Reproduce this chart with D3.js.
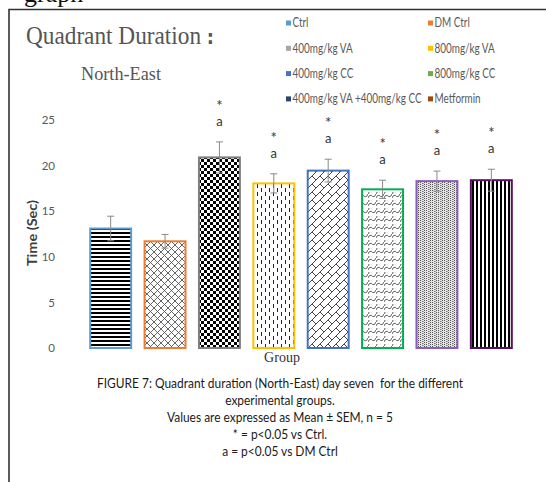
<!DOCTYPE html>
<html><head><meta charset="utf-8">
<script src="https://cdn.jsdelivr.net/npm/d3@7"></script>
<style>body{margin:0;background:#fff}svg{display:block}</style>
</head><body>
<svg id="chart" width="546" height="482"></svg>
<script>
const categories = ["Ctrl","DM Ctrl","400mg/kg VA","800mg/kg VA","400mg/kg CC","800mg/kg CC","400mg/kg VA +400mg/kg CC","Metformin"];
const values = [13.1, 11.7, 20.9, 18.05, 19.45, 17.4, 18.3, 18.4];
const errors = [1.35, 0.75, 1.7, 1.05, 1.25, 1.0, 1.1, 1.2];
const starMarks = ["", "", "*", "*", "*", "*", "*", "*"];
const aMarks = ["", "", "a", "a", "a", "a", "a", "a"];
const legendColors = ["#5B9BD5","#ED7D31","#A5A5A5","#FFC000","#4472C4","#70AD47","#264478","#9E480E"];
const borderColors = ["#5B9BD5","#ED7D31","#7F7F7F","#FFC000","#4472C4","#00B050","#8E5CC0","#5A1060"];
const yTicks = [0,5,10,15,20,25];
const captionLines = [
  "FIGURE 7: Quadrant duration (North-East) day seven  for the different",
  "experimental groups.",
  "Values are expressed as Mean \u00B1 SEM, n = 5",
  "* = p<0.05 vs Ctrl.",
  "a = p<0.05 vs DM Ctrl"
];

const svg = d3.select("#chart");
const defs = svg.append("defs");

function pat(id, w, h, draw) {
  const p = defs.append("pattern").attr("id", id).attr("patternUnits","userSpaceOnUse")
    .attr("width", w).attr("height", h);
  p.append("rect").attr("width", w).attr("height", h).attr("fill", "#fff");
  draw(p);
}
pat("p0", 8, 4, p => p.append("rect").attr("width",8).attr("height",2).attr("fill","#000"));
pat("p1", 7, 7, p => {
  p.append("path").attr("d","M0,0L7,7M7,0L0,7M-1,6L1,8M6,-1L8,1").attr("stroke","#555").attr("stroke-width",0.9).attr("fill","none");
});
pat("p2", 6, 6, p => {
  p.append("rect").attr("width",3).attr("height",3).attr("fill","#000");
  p.append("rect").attr("x",3).attr("y",3).attr("width",3).attr("height",3).attr("fill","#000");
});
pat("p3", 8, 8, p => {
  p.append("path").attr("d","M1.5,0V4M5.5,4V8").attr("stroke","#222").attr("stroke-width",1);
});
pat("p4", 8, 8, p => {
  p.append("path").attr("d","M0,8L8,0M0,0L4,4M-4,4L0,8M8,0L12,4").attr("stroke","#333").attr("stroke-width",0.9).attr("fill","none");
});
pat("p5", 8, 8, p => {
  p.append("path").attr("d","M0,6C1,3 3,3 4,4C5,5 7,5 8,2M0,2C1,-1 3,-1 4,0").attr("stroke","#333").attr("stroke-width",0.9).attr("fill","none");
});
pat("p6", 6, 2, p => {
  p.select("rect").attr("fill","#e4e4e4");
  p.append("rect").attr("x",0).attr("y",0).attr("width",1).attr("height",1).attr("fill","#555");
  p.append("rect").attr("x",2).attr("y",1).attr("width",1).attr("height",1).attr("fill","#777");
  p.append("rect").attr("x",4).attr("y",0).attr("width",1).attr("height",1).attr("fill","#555");
  p.append("rect").attr("x",3).attr("y",1).attr("width",1).attr("height",1).attr("fill","#aaa");
});
pat("p7", 4, 8, p => p.append("rect").attr("width",2).attr("height",8).attr("fill","#000"));

const x = d3.scaleBand().domain(categories).range([63, 539]).paddingInner(0.247).paddingOuter(0.5);
const y = d3.scaleLinear().domain([0, 25]).range([348, 120]);

// frame
svg.append("path").attr("d","M9,482V9.5H546").attr("fill","none").attr("stroke","#333").attr("stroke-width",1.6);

// cut-off text at the top edge
svg.append("text").attr("x",24).attr("y",2).attr("font-family","Liberation Serif").attr("font-size",26).attr("fill","#111").text("graph");

function condense(sel, fs, target) {
  sel.attr("font-size", fs);
  sel.attr("textLength", target).attr("lengthAdjust","spacingAndGlyphs");
}
function condenseGroup(sel, fs, refIndex, target) {
  sel.attr("font-size", fs);
  const nodes = sel.nodes();
  const r = target / nodes[refIndex].getComputedTextLength();
  nodes.forEach(n => {
    const l = n.getComputedTextLength();
    d3.select(n).attr("textLength", l * r).attr("lengthAdjust","spacingAndGlyphs");
  });
}

// title
const t1 = svg.append("text").attr("x",26).attr("y",44).attr("font-family","Liberation Serif").attr("fill","#555");
t1.append("tspan").text("Quadrant Duration ");
t1.append("tspan").attr("font-weight","bold").attr("font-family","DejaVu Sans").attr("font-size",20).text(":");
condense(t1, 26, 188);
const t2 = svg.append("text").attr("x",81).attr("y",80).attr("font-family","Liberation Serif").attr("fill","#555").text("North-East");
condense(t2, 19.5, 80);

// legend
const legItems = svg.append("g").selectAll("g").data(categories).join("g")
  .attr("transform", (d,i) => `translate(${i%2===0?286:428},${23 + Math.floor(i/2)*25.3})`);
legItems.append("rect").attr("x",0).attr("y",-2.5).attr("width",5).attr("height",5).attr("fill",(d,i)=>legendColors[i]);
const legTexts = legItems.append("text").attr("x",6.5).attr("y",4.2).attr("font-family","Lato").attr("fill","#595959").text(d=>d);
condenseGroup(legTexts, 12.5, 6, 129);

// y axis
const yAxis = d3.axisLeft(y).tickValues(yTicks).tickSize(0).tickPadding(0);
const ga = svg.append("g").attr("transform","translate(55,0)").call(yAxis);
ga.select(".domain").remove();
ga.selectAll("text").attr("font-family","Lato").attr("font-size",11.5).attr("fill","#595959");

const yt = svg.append("text").attr("transform","translate(37,233) rotate(-90)").attr("text-anchor","middle")
  .attr("font-family","Lato").attr("font-weight","bold").attr("fill","#404040").text("Time (Sec)");
condense(yt, 12.5, 66);

// bars
svg.append("g").selectAll("rect").data(categories).join("rect")
  .attr("x", d => x(d)).attr("width", x.bandwidth())
  .attr("y", (d,i) => y(values[i])).attr("height", (d,i) => y(0) - y(values[i]))
  .attr("fill", (d,i) => `url(#p${i})`)
  .attr("stroke", (d,i) => borderColors[i]).attr("stroke-width", 2);

// error bars
const eb = svg.append("g").attr("stroke","#8a8a8a").attr("stroke-width",1).attr("fill","none");
categories.forEach((c,i) => {
  const cx = x(c) + x.bandwidth()/2;
  eb.append("line").attr("x1",cx).attr("x2",cx).attr("y1",y(values[i]-errors[i])).attr("y2",y(values[i]+errors[i]));
  eb.append("line").attr("x1",cx-3.5).attr("x2",cx+3.5).attr("y1",y(values[i]+errors[i])).attr("y2",y(values[i]+errors[i]));
  eb.append("line").attr("x1",cx-3.5).attr("x2",cx+3.5).attr("y1",y(values[i]-errors[i])).attr("y2",y(values[i]-errors[i]));
});

// significance marks
const sg = svg.append("g").attr("font-family","Lato").attr("fill","#333").attr("text-anchor","middle");
categories.forEach((c,i) => {
  const cx = x(c) + x.bandwidth()/2;
  const top = y(values[i]+errors[i]);
  sg.append("text").attr("x",cx).attr("y",top-16).attr("font-size",13).text(aMarks[i]);
  sg.append("text").attr("x",cx).attr("y",top-31).attr("font-size",15).text(starMarks[i]);
});

// x axis label
svg.append("text").attr("x",282).attr("y",362).attr("text-anchor","middle").attr("font-family","Liberation Serif").attr("font-size",14).attr("fill","#333").text("Group");

// caption
const capY = [388, 405, 422, 439, 456];
const capTexts = svg.append("g").attr("font-family","Lato").attr("fill","#1a1a1a").attr("text-anchor","middle")
  .selectAll("text").data(captionLines).join("text")
  .attr("x", 280).attr("y", (d,i)=>capY[i]).style("white-space","pre").text(d=>d);
condenseGroup(capTexts, 13.8, 0, 366);
</script>
</body></html>
